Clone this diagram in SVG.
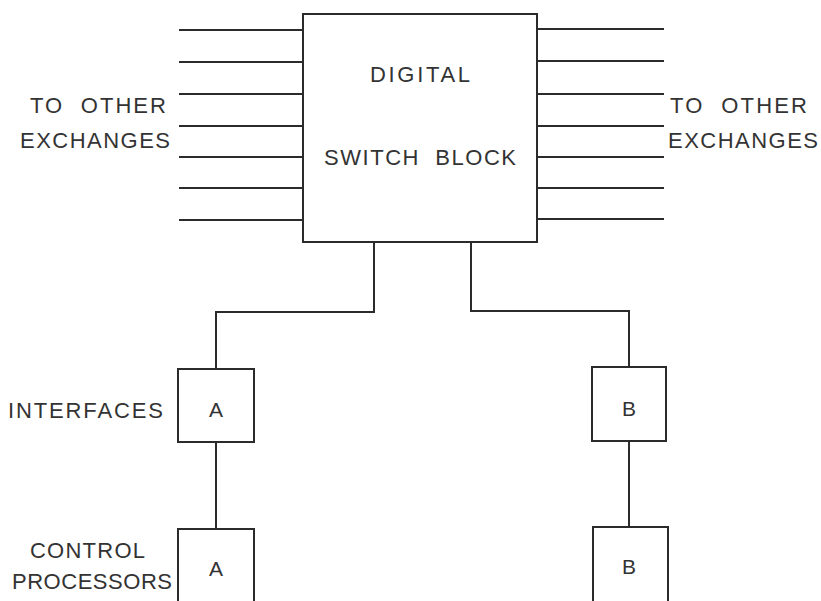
<svg xmlns="http://www.w3.org/2000/svg" width="821" height="601" viewBox="0 0 821 601">
<style>
.ln{stroke:#2b2b2b;stroke-width:2;fill:none;stroke-linecap:square}
.bx{stroke:#2b2b2b;stroke-width:2;fill:#fff}
text{font-family:"Liberation Sans",Arial,sans-serif;font-size:22px;fill:#333;white-space:pre}
.c{text-anchor:middle}
.l{font-size:21px}
</style>
<rect width="821" height="601" fill="#fff"/>
<g id="connectors">
<path class="ln" d="M180 30H303M180 62H303M180 94H303M180 126H303M180 157H303M180 188H303M180 220H303"/>
<path class="ln" d="M537 29H663M537 61H663M537 94H663M537 126H663M537 157H663M537 188H663M537 219H663"/>
<path class="ln" d="M374 242V312H216V369"/>
<path class="ln" d="M471 242V311H629V367"/>
<path class="ln" d="M216 442V529"/>
<path class="ln" d="M629 441V527"/>
</g>
<g id="switch-block">
<rect class="bx" x="303" y="14" width="234" height="228"/>
<text class="c" x="420" y="82" textLength="100" lengthAdjust="spacing">DIGITAL</text>
<text class="c" x="420" y="165" textLength="192" lengthAdjust="spacing" xml:space="preserve">SWITCH  BLOCK</text>
</g>
<g id="label-left">
<text x="30" y="113" textLength="136" lengthAdjust="spacing" xml:space="preserve">TO  OTHER</text>
<text x="20" y="148" textLength="150" lengthAdjust="spacing">EXCHANGES</text>
</g>
<g id="label-right">
<text x="670" y="113" textLength="137" lengthAdjust="spacing" xml:space="preserve">TO  OTHER</text>
<text x="668" y="148" textLength="150" lengthAdjust="spacing">EXCHANGES</text>
</g>
<g id="label-interfaces">
<text x="8" y="418" textLength="155" lengthAdjust="spacing">INTERFACES</text>
</g>
<g id="label-processors">
<text x="30" y="558" textLength="115" lengthAdjust="spacing">CONTROL</text>
<text x="12" y="589" textLength="160" lengthAdjust="spacing">PROCESSORS</text>
</g>
<g id="interface-a">
<rect class="bx" x="178" y="369" width="76" height="73"/>
<text class="c l" x="216" y="417">A</text>
</g>
<g id="interface-b">
<rect class="bx" x="592" y="367" width="74" height="74"/>
<text class="c l" x="629" y="416">B</text>
</g>
<g id="processor-a">
<rect class="bx" x="178" y="529" width="76" height="80"/>
<text class="c l" x="216" y="576">A</text>
</g>
<g id="processor-b">
<rect class="bx" x="593" y="527" width="75" height="80"/>
<text class="c l" x="629" y="574">B</text>
</g>
</svg>
